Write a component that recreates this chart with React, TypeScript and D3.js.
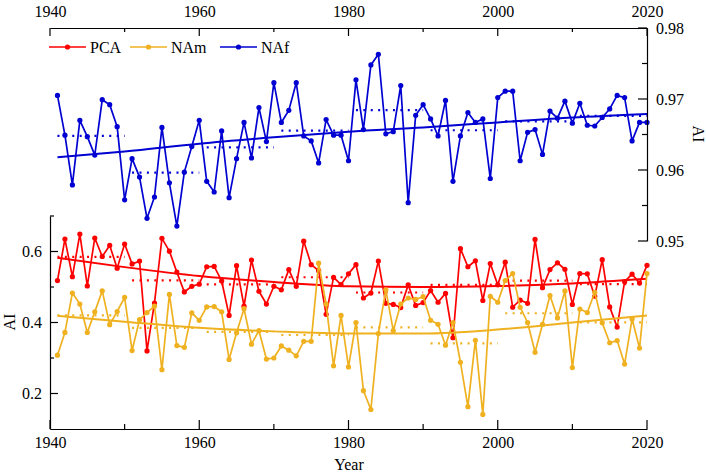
import React from "react";
import * as d3 from "d3";

// years 1941-2020
const years: number[] = d3.range(1941, 2021);

const pcaValues = [
  0.518, 0.635, 0.529, 0.649, 0.503, 0.638, 0.586, 0.617, 0.553, 0.621,
  0.565, 0.573, 0.32, 0.455, 0.637, 0.601, 0.542, 0.486, 0.502, 0.508,
  0.557, 0.558, 0.517, 0.42, 0.56, 0.446, 0.576, 0.488, 0.452, 0.502,
  0.492, 0.549, 0.502, 0.629, 0.563, 0.546, 0.423, 0.527, 0.507, 0.537,
  0.563, 0.469, 0.483, 0.573, 0.454, 0.451, 0.442, 0.506, 0.448, 0.456,
  0.49, 0.457, 0.482, 0.357, 0.608, 0.557, 0.574, 0.462, 0.566, 0.506,
  0.57, 0.443, 0.463, 0.454, 0.634, 0.498, 0.549, 0.568, 0.55, 0.451,
  0.538, 0.537, 0.474, 0.577, 0.444, 0.387, 0.515, 0.536, 0.511, 0.561,
];

const namValues = [
  0.308, 0.372, 0.483, 0.452, 0.372, 0.43, 0.489, 0.394, 0.431, 0.471,
  0.321, 0.408, 0.428, 0.446, 0.267, 0.479, 0.335, 0.33, 0.427, 0.406,
  0.444, 0.445, 0.43, 0.296, 0.371, 0.439, 0.339, 0.377, 0.297, 0.3,
  0.334, 0.322, 0.306, 0.347, 0.347, 0.567, 0.452, 0.278, 0.42, 0.275,
  0.4, 0.208, 0.155, 0.369, 0.492, 0.377, 0.452, 0.469, 0.465, 0.473,
  0.406, 0.395, 0.336, 0.4, 0.288, 0.163, 0.35, 0.141, 0.474, 0.457,
  0.518, 0.538, 0.443, 0.4, 0.316, 0.395, 0.476, 0.413, 0.489, 0.273,
  0.438, 0.428, 0.485, 0.399, 0.343, 0.349, 0.283, 0.41, 0.328, 0.538,
];

const nafValues = [
  0.9705, 0.9649, 0.9579, 0.967, 0.9647, 0.9621, 0.9699, 0.9692, 0.9661, 0.9558,
  0.9616, 0.959, 0.9532, 0.9562, 0.966, 0.9582, 0.9521, 0.9597, 0.9633, 0.967,
  0.9584, 0.9569, 0.9655, 0.9561, 0.9616, 0.9667, 0.9617, 0.9688, 0.964, 0.9723,
  0.9667, 0.9684, 0.9723, 0.9648, 0.9641, 0.961, 0.9671, 0.9649, 0.9649, 0.9613,
  0.9727, 0.9657, 0.9748, 0.9763, 0.9651, 0.9654, 0.9719, 0.9554, 0.9677, 0.9692,
  0.9672, 0.9648, 0.9698, 0.9584, 0.9648, 0.9681, 0.9667, 0.9672, 0.9588, 0.9702,
  0.9711, 0.9711, 0.9613, 0.9653, 0.9657, 0.9622, 0.9683, 0.9673, 0.9697, 0.9666,
  0.9694, 0.9663, 0.9662, 0.9674, 0.9686, 0.9705, 0.9702, 0.9641, 0.9667, 0.9667,
];

// fitted trend curves, read at these years
const trendYears = [1941, 1950, 1960, 1970, 1980, 1990, 2000, 2010, 2020];
const pcaTrend = [0.582, 0.556, 0.531, 0.514, 0.502, 0.5, 0.503, 0.51, 0.523];
const namTrend = [0.419, 0.402, 0.385, 0.375, 0.369, 0.369, 0.38, 0.4, 0.42];
const nafTrend = [0.9618, 0.9626, 0.9637, 0.9646, 0.9654, 0.966, 0.9667, 0.9674, 0.9679];

// decades for the dotted mean segments
const decadeStarts = [1941, 1951, 1961, 1971, 1981, 1991, 2001, 2011];

const bottomTicks = [1940, 1960, 1980, 2000, 2020];
const leftTicks = [0.2, 0.4, 0.6];
const rightTicks = [0.95, 0.96, 0.97, 0.98];

const W = 706;
const H = 473;
const FONT = "Liberation Serif";

const App: React.FC = () => {
  const svgRef = React.useRef<SVGSVGElement>(null);

  React.useEffect(() => {
    if (!svgRef.current) return;
    const svg = d3.select(svgRef.current);
    svg.selectAll("*").remove();

    const x = d3.scaleLinear().domain([1940, 2020]).range([50, 647]);
    const yL = d3.scaleLinear().domain([0.1, 0.7]).range([429, 216]);
    const yR = d3.scaleLinear().domain([0.95, 0.98]).range([241, 28]);

    const series = [
      { name: "PCA", values: pcaValues, trend: pcaTrend, y: yL, color: "#ff0000" },
      { name: "NAm", values: namValues, trend: namTrend, y: yL, color: "#efb120" },
      { name: "NAf", values: nafValues, trend: nafTrend, y: yR, color: "#0000d2" },
    ];

    series.forEach((s) => {
      const pts = years.map((yr, i) => ({ yr, v: s.values[i] }));
      const line = d3
        .line<{ yr: number; v: number }>()
        .x((d) => x(d.yr))
        .y((d) => s.y(d.v));

      svg
        .append("path")
        .datum(pts)
        .attr("fill", "none")
        .attr("stroke", s.color)
        .attr("stroke-width", 1.7)
        .attr("stroke-linejoin", "round")
        .attr("d", line);

      svg
        .append("g")
        .selectAll("circle")
        .data(pts)
        .join("circle")
        .attr("cx", (d) => x(d.yr))
        .attr("cy", (d) => s.y(d.v))
        .attr("r", 2.6)
        .attr("fill", s.color);

      // trend curve
      const tr = trendYears.map((yr, i) => ({ yr, v: s.trend[i] }));
      svg
        .append("path")
        .datum(tr)
        .attr("fill", "none")
        .attr("stroke", s.color)
        .attr("stroke-width", 2)
        .attr("d", line.curve(d3.curveMonotoneX));

      // decade means as dotted segments
      decadeStarts.forEach((start) => {
        const vals = pts.filter((p) => p.yr >= start && p.yr <= start + 9).map((p) => p.v);
        const m = d3.mean(vals) as number;
        svg
          .append("line")
          .attr("x1", x(start))
          .attr("x2", x(start + 9))
          .attr("y1", s.y(m))
          .attr("y2", s.y(m))
          .attr("stroke", s.color)
          .attr("stroke-width", 2.2)
          .attr("stroke-dasharray", "2 5.4");
      });
    });

    const txt = (sel: any) =>
      sel.style("font-family", FONT).style("font-size", "16px").attr("fill", "#000");

    // bottom axis
    const bottom = d3
      .axisBottom(x)
      .tickValues(d3.range(1940, 2021, 10))
      .tickSize(0)
      .tickFormat((d) => (bottomTicks.includes(+d) ? String(d) : ""));
    const gb = svg.append("g").attr("transform", "translate(0,429)").call(bottom);
    gb.select(".domain").attr("stroke", "#000").attr("stroke-width", 1.2);
    gb.selectAll(".tick line").remove();
    gb.selectAll(".tick text").call(txt).attr("dy", "1em").attr("y", 3);
    svg
      .append("g")
      .selectAll("line")
      .data(d3.range(1940, 2021, 10))
      .join("line")
      .attr("x1", (d) => x(d))
      .attr("x2", (d) => x(d))
      .attr("y1", 429)
      .attr("y2", (d) => (bottomTicks.includes(d) ? 420 : 424))
      .attr("stroke", "#000")
      .attr("stroke-width", 1.2);

    // top axis
    const top = d3
      .axisTop(x)
      .tickValues(d3.range(1940, 2021, 10))
      .tickSize(0)
      .tickFormat((d) => (bottomTicks.includes(+d) ? String(d) : ""));
    const gt = svg.append("g").attr("transform", "translate(0,28)").call(top);
    gt.select(".domain").attr("stroke", "#000").attr("stroke-width", 1.2);
    gt.selectAll(".tick line").remove();
    gt.selectAll(".tick text").call(txt).attr("y", -11);
    svg
      .append("g")
      .selectAll("line")
      .data(d3.range(1940, 2021, 10))
      .join("line")
      .attr("x1", (d) => x(d))
      .attr("x2", (d) => x(d))
      .attr("y1", 28)
      .attr("y2", (d) => (bottomTicks.includes(d) ? 36 : 32))
      .attr("stroke", "#000")
      .attr("stroke-width", 1.2);

    // left axis
    const left = d3
      .axisLeft(yL)
      .tickValues([0.2, 0.3, 0.4, 0.5, 0.6, 0.7])
      .tickSize(0)
      .tickFormat((d) => (leftTicks.some((t) => Math.abs(t - +d) < 1e-6) ? d3.format(".1f")(+d) : ""));
    const gl = svg.append("g").attr("transform", "translate(50,0)").call(left);
    gl.select(".domain").attr("stroke", "#000").attr("stroke-width", 1.2);
    gl.selectAll(".tick line").remove();
    gl.selectAll(".tick text").call(txt).attr("x", -8);
    svg
      .append("g")
      .selectAll("line")
      .data([0.2, 0.3, 0.4, 0.5, 0.6, 0.7])
      .join("line")
      .attr("x1", 50)
      .attr("x2", (d) => (leftTicks.some((t) => Math.abs(t - d) < 1e-6) ? 58 : 54))
      .attr("y1", (d) => yL(d))
      .attr("y2", (d) => yL(d))
      .attr("stroke", "#000")
      .attr("stroke-width", 1.2);

    // right axis
    const right = d3
      .axisRight(yR)
      .tickValues(rightTicks)
      .tickSize(0)
      .tickFormat(d3.format(".2f") as any);
    const gr = svg.append("g").attr("transform", "translate(647,0)").call(right);
    gr.select(".domain").attr("stroke", "#000").attr("stroke-width", 1.2);
    gr.selectAll(".tick line").remove();
    gr.selectAll(".tick text").call(txt).attr("x", 9);
    svg
      .append("g")
      .selectAll("line")
      .data([0.95, 0.955, 0.96, 0.965, 0.97, 0.975, 0.98])
      .join("line")
      .attr("x1", 647)
      .attr("x2", (d) => (rightTicks.some((t) => Math.abs(t - d) < 1e-6) ? 638 : 642))
      .attr("y1", (d) => yR(d))
      .attr("y2", (d) => yR(d))
      .attr("stroke", "#000")
      .attr("stroke-width", 1.2);

    // axis titles
    svg.append("text").call(txt).attr("x", 349).attr("y", 470).attr("text-anchor", "middle").text("Year");
    svg
      .append("text")
      .call(txt)
      .attr("transform", "translate(15,322) rotate(-90)")
      .attr("text-anchor", "middle")
      .text("AI");
    svg
      .append("text")
      .call(txt)
      .attr("transform", "translate(693,134) rotate(90)")
      .attr("text-anchor", "middle")
      .text("AI");

    // legend
    const legendX = [49, 130, 220];
    series.forEach((s, i) => {
      const lx = legendX[i];
      svg
        .append("line")
        .attr("x1", lx)
        .attr("x2", lx + 37)
        .attr("y1", 47)
        .attr("y2", 47)
        .attr("stroke", s.color)
        .attr("stroke-width", 1.7);
      svg.append("circle").attr("cx", lx + 18.5).attr("cy", 47).attr("r", 2.6).attr("fill", s.color);
      svg
        .append("text")
        .call(txt)
        .attr("x", lx + 41)
        .attr("y", 52.5)
        .text(s.name);
    });
  }, []);

  return (
    <svg
      ref={svgRef}
      width={W}
      height={H}
      style={{ position: "absolute", left: 0, top: 0, background: "#fff" }}
    />
  );
};

export default App;
